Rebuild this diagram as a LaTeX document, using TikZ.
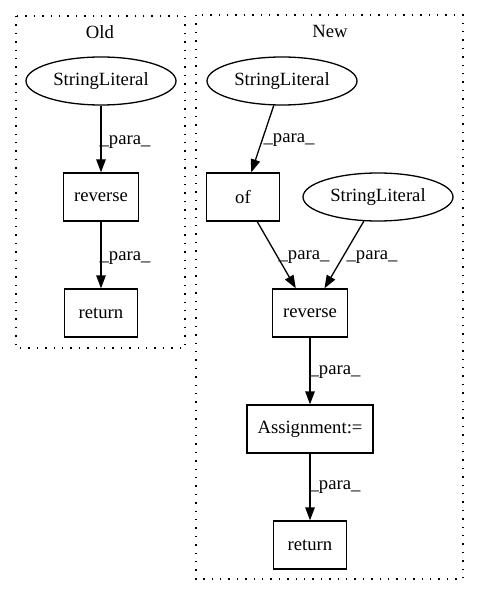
\documentclass[tikz,border=0pt]{standalone}
\usepackage{fontspec}
\setmainfont{Liberation Serif}
\usetikzlibrary{arrows.meta,shapes.geometric}
\begin{document}
\begin{tikzpicture}[x=1pt,y=-1pt,
  font=\fontsize{18.67}{22}\selectfont,
  every node/.style={inner sep=0pt},
  boxnode/.style={draw,line width=1.3pt,rectangle,minimum width=73pt,minimum height=48pt,inner xsep=10.5pt},
  ellnode/.style={draw,line width=1.3pt,ellipse,minimum width=150pt,minimum height=48pt},
  cluster/.style={draw,line width=1.3pt,dash pattern=on 1.4pt off 7pt},
  edge/.style={draw,line width=1.3pt,-{Triangle[length=13pt,width=9.5pt]}},
  elabel/.style={font=\fontsize{18.67}{22}\selectfont}]
\path[use as bounding box] (0,0) rectangle (480,596);
% clusters
\draw[cluster] (16,16) rectangle (185,348);
\draw[cluster] (196,15) rectangle (463,579);
\node (oldlbl) at (100,32) {Old};
\node (newlbl) at (330,31) {New};
% Old nodes
\node[ellnode] (osl) at (101,81) {StringLiteral};
\node[boxnode] (orev) at (101,197) {reverse};
\node[boxnode] (oret) at (101,313) {return};
% New nodes
\node[ellnode] (nsl1) at (282,81) {StringLiteral};
\node[boxnode] (nof) at (243,197) {of};
\node[ellnode] (nsl2) at (378,197) {StringLiteral};
\node[boxnode] (nrev) at (310,313) {reverse};
\node[boxnode] (nasg) at (310,429) {Assignment:=};
\node[boxnode] (nret) at (310,545) {return};
% edges
\draw[edge] (osl) -- (orev);
\draw[edge] (orev) -- (oret);
\draw[edge] (nsl1) -- (nof);
\draw[edge] (nof) -- (nrev);
\draw[edge] (nsl2) -- (nrev);
\draw[edge] (nrev) -- (nasg);
\draw[edge] (nasg) -- (nret);
% edge labels
\node[elabel] (l1) at (125,142) {\_para\_};
\node[elabel] (l2) at (125,258) {\_para\_};
\node[elabel] (l3) at (289,140) {\_para\_};
\node[elabel] (l4) at (304,257) {\_para\_};
\node[elabel] (l5) at (372,257) {\_para\_};
\node[elabel] (l6) at (335,372) {\_para\_};
\node[elabel] (l7) at (335,487) {\_para\_};
\end{tikzpicture}
\end{document}
